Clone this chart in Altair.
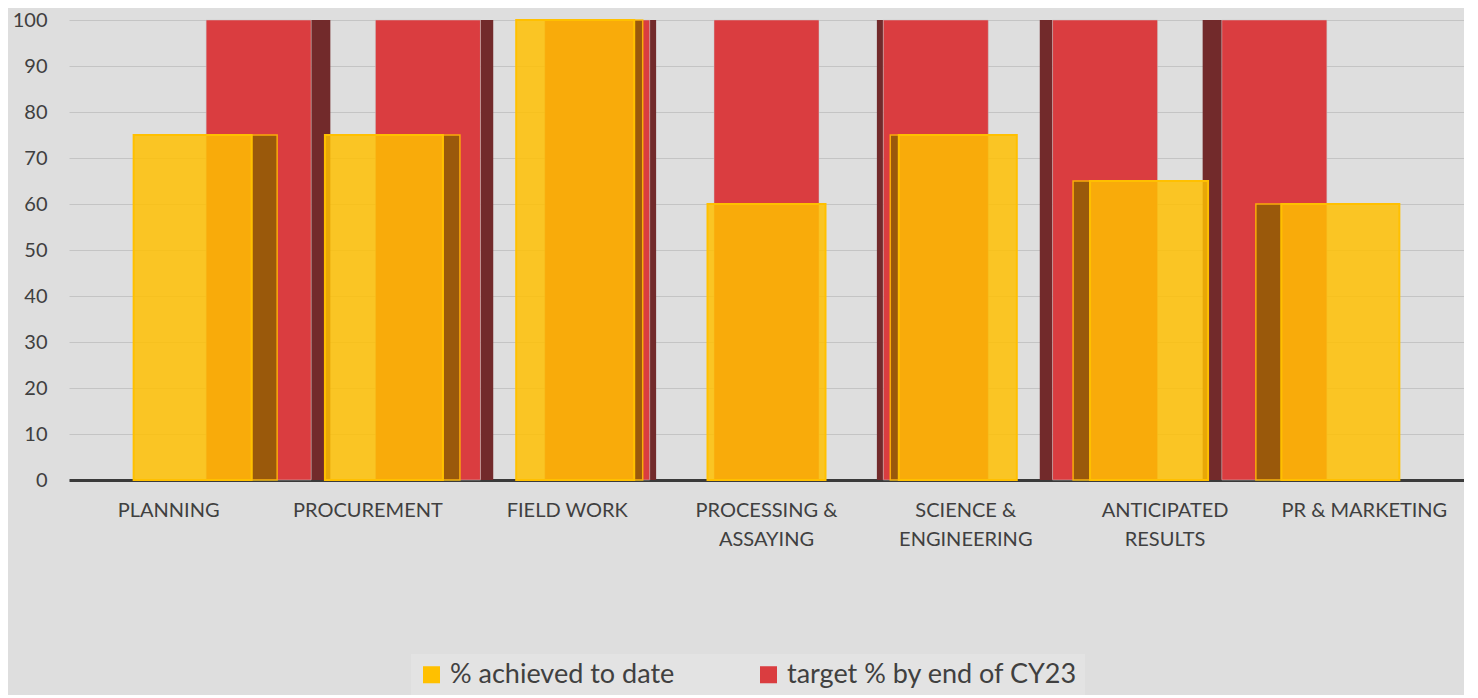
import altair as alt
import pandas as pd

categories = [
    "PLANNING",
    "PROCUREMENT",
    "FIELD WORK",
    "PROCESSING & ASSAYING",
    "SCIENCE & ENGINEERING",
    "ANTICIPATED RESULTS",
    "PR & MARKETING",
]
achieved = [75, 75, 100, 60, 75, 65, 60]
target = [100, 100, 100, 100, 100, 100, 100]
series_names = ["% achieved to date", "target % by end of CY23"]
series_colors = ["#FFC000", "#DA3D40"]
y_ticks = [0, 10, 20, 30, 40, 50, 60, 70, 80, 90, 100]

rows = []
for i, c in enumerate(categories):
    rows.append({"category": c, "series": series_names[0], "value": achieved[i], "idx": i})
    rows.append({"category": c, "series": series_names[1], "value": target[i], "idx": i})
df = pd.DataFrame(rows)

FONT = "Lato"
TXT = "#404040"

color = alt.Color(
    "series:N",
    scale=alt.Scale(domain=series_names, range=series_colors),
    legend=alt.Legend(
        title=None,
        orient="none",
        direction="horizontal",
        legendX=342,
        legendY=634,
        symbolType="square",
        symbolSize=290,
        symbolStrokeWidth=0,
        symbolOpacity=1,
        labelFontSize=27,
        labelFont=FONT,
        labelColor=TXT,
        labelOffset=5,
        labelLimit=400,
        columnPadding=80,
        fillColor="#e3e3e3",
        padding=7,
    ),
)

x = alt.X(
    "category:N",
    sort=categories,
    scale=alt.Scale(paddingInner=0, paddingOuter=0),
    axis=alt.Axis(
        title=None,
        labelAngle=0,
        labelFont=FONT,
        labelFontSize=20,
        labelColor=TXT,
        labelPadding=20,
        labelLineHeight=29,
        labelExpr="length(datum.label) > 15 ? [slice(datum.label, 0, lastindexof(datum.label, ' ')), slice(datum.label, lastindexof(datum.label, ' ') + 1)] : datum.label",
        ticks=False,
        domainColor="#3a3a3a",
        domainWidth=3,
        grid=False,
    ),
)
y = alt.Y(
    "value:Q",
    scale=alt.Scale(domain=[0, 100], nice=False),
    axis=alt.Axis(
        title=None,
        values=y_ticks,
        labelFont=FONT,
        labelFontSize=20,
        labelColor=TXT,
        labelPadding=22,
        ticks=False,
        domain=False,
        gridColor="#c4c4c4",
        gridWidth=1.2,
    ),
)
y_plain = alt.Y("value:Q")

base = alt.Chart(df)
not_center = alt.datum.idx != 3

# red (back) series: front face + shaded side face
red_side = (
    base.transform_filter(alt.datum.series == series_names[1])
    .transform_filter(not_center)
    .mark_bar(
        color="#722a2b",
        size={"expr": "abs(3 - datum.idx) * 6.4"},
        xOffset={"expr": "(3 - datum.idx) * 30 + ((3 - datum.idx) > 0 ? 1 : -1) * (52.5 + abs(3 - datum.idx) * 3.2)"},
    )
    .encode(x=x, y=y_plain)
)
red = (
    base.transform_filter(alt.datum.series == series_names[1])
    .mark_bar(
        size=105,
        stroke="#c8c8c8",
        strokeWidth=0.5,
        xOffset={"expr": "(3 - datum.idx) * 30"},
    )
    .encode(x=x, y=y, color=color)
)

# yellow (front) series: translucent front face + shaded side face
yellow_side = (
    base.transform_filter(alt.datum.series == series_names[0])
    .transform_filter(not_center)
    .mark_bar(
        color="#8f5e02",
        opacity=0.85,
        stroke="#FFC000",
        strokeWidth=1.5,
        size={"expr": "abs(3 - datum.idx) * 8.5"},
        xOffset={"expr": "(3 - datum.idx) * 8 + ((3 - datum.idx) > 0 ? 1 : -1) * (59 + abs(3 - datum.idx) * 4.25)"},
    )
    .encode(x=x, y=y_plain)
)
yellow = (
    base.transform_filter(alt.datum.series == series_names[0])
    .mark_bar(
        size=118,
        fillOpacity=0.84,
        stroke="#FFC000",
        strokeWidth=2,
        xOffset={"expr": "(3 - datum.idx) * 8"},
    )
    .encode(x=x, y=y, color=color)
)

chart = (
    alt.layer(red_side, red, yellow_side, yellow)
    .properties(
        width=1395,
        height=460,
        background="#dedede",
        padding={"left": 4, "top": 2, "right": 0, "bottom": 0},
    )
    .configure_view(stroke=None)
)

chart.save("out.html", embed_options={"renderer": "svg", "actions": False})
